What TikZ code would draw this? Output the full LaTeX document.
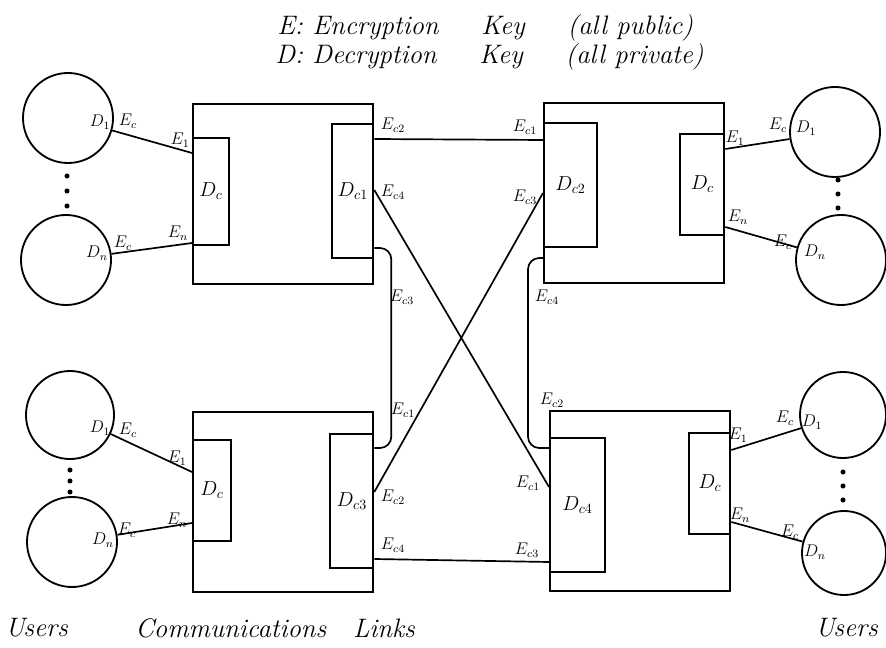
\documentclass[tikz,border=0pt]{standalone}
\usepackage{tikz}
\usetikzlibrary{calc,positioning}

\begin{document}
\begin{tikzpicture}[
  x=0.025cm, y=-0.025cm,
  site/.style={rectangle, draw, line width=1.6pt, minimum width=4.5cm, minimum height=4.5cm,
               anchor=north west, inner sep=0pt},
  keybox/.style={rectangle, draw, line width=1.3pt, inner sep=0pt, font=\fontsize{14}{16}\selectfont},
  user/.style={circle, draw, line width=1.3pt, inner sep=0pt},
  link/.style={line width=1.2pt},
  lbl/.style={font=\fontsize{12}{14}\selectfont, inner sep=0pt},
  hand/.style={font=\fontsize{#1}{#1}\selectfont\itshape, inner sep=0pt},
]
  \useasboundingbox (0,0) rectangle (886,648);

  % Legend
  \node[hand=19, anchor=west] (legE) at (277,28) {E: Encryption\hspace{1.6em}Key\hspace{1.6em}(all public)};
  \node[hand=19, anchor=west] (legD) at (275,57) {D: Decryption\hspace{1.6em}Key\hspace{1.6em}(all private)};

  % Sites
  \node[site] (A) at (192,103) {};
  \node[site] (B) at (543,102) {};
  \node[site] (C) at (192,411) {};
  \node[site] (D) at (549,410) {};

  % Key boxes
  \node[keybox, anchor=north west, minimum width=0.9cm,   minimum height=2.675cm] (A1) at ($(A.north west)+(0,34)$) {$D_c$};
  \node[keybox, anchor=north east, minimum width=1.025cm, minimum height=3.35cm]  (A2) at ($(A.north east)+(0,20)$) {$D_{c1}$};
  \node[keybox, anchor=north west, minimum width=1.325cm, minimum height=3.1cm]   (B1) at ($(B.north west)+(0,20)$) {$D_{c2}$};
  \node[keybox, anchor=north east, minimum width=1.1cm,   minimum height=2.525cm] (B2) at ($(B.north east)+(0,31)$) {$D_c$};
  \node[keybox, anchor=north west, minimum width=0.95cm,  minimum height=2.525cm] (C1) at ($(C.north west)+(0,28)$) {$D_c$};
  \node[keybox, anchor=north east, minimum width=1.075cm, minimum height=3.35cm]  (C2) at ($(C.north east)+(0,22)$) {$D_{c3}$};
  \node[keybox, anchor=north west, minimum width=1.375cm, minimum height=3.35cm]  (D1) at ($(D.north west)+(0,27)$) {$D_{c4}$};
  \node[keybox, anchor=north east, minimum width=1.025cm, minimum height=2.525cm] (D2) at ($(D.north east)+(0,22)$) {$D_c$};

  % Users
  \node[user, minimum size=2.25cm] (uA1) at (68,118) {};
  \node[user, minimum size=2.25cm] (uA2) at (66,260) {};
  \node[user, minimum size=2.2cm]  (uC1) at (70,415) {};
  \node[user, minimum size=2.25cm] (uC2) at (72,542) {};
  \node[user, minimum size=2.25cm] (uB1) at (835,132) {};
  \node[user, minimum size=2.25cm] (uB2) at (841,260) {};
  \node[user, minimum size=2.15cm] (uD1) at (843,415) {};
  \node[user, minimum size=2.1cm]  (uD2) at (844,553) {};

  \foreach \y in {176,191,206} \fill (67,\y) circle (1.8pt);
  \foreach \y in {470,481,492} \fill (70,\y) circle (1.8pt);
  \foreach \y in {180,194,208} \fill (838,\y) circle (1.8pt);
  \foreach \y in {472,486,500} \fill (843,\y) circle (1.8pt);

  % User lines
  \draw[link] ($(A.north west)+(0,50)$)  -- (uA1);
  \draw[link] ($(A.north west)+(0,140)$) -- (uA2);
  \draw[link] ($(C.north west)+(0,61)$)  -- (uC1);
  \draw[link] ($(C.north west)+(0,112)$) -- (uC2);
  \draw[link] ($(B.north east)+(0,47)$)  -- (uB1);
  \draw[link] ($(B.north east)+(0,125)$) -- (uB2);
  \draw[link] ($(D.north east)+(0,40)$)  -- (uD1);
  \draw[link] ($(D.north east)+(0,112)$) -- (uD2);

  % Communication links
  \draw[link] ($(A.north east)+(0,36)$)  -- ($(B.north west)+(0,38)$);
  \draw[link] ($(A.north east)+(0,87)$)  -- ($(D.north west)+(0,77)$);
  \draw[link] ($(B.north west)+(0,91)$)  -- ($(C.north east)+(0,81)$);
  \draw[link] ($(C.north east)+(0,148)$) -- ($(D.north west)+(0,152)$);
  \draw[link, rounded corners=8pt] ($(A.north east)+(0,145)$) -| ($(C.north east)+(17,37)$) -- ($(C.north east)+(0,37)$);
  \draw[link, rounded corners=8pt] ($(B.north west)+(0,156)$) -| ($(D.north west)+(-21,38)$) -- ($(D.north west)+(0,38)$);

  % Labels, users
  \node[lbl] (lA1) at (100,122) {$D_1$};
  \node[lbl] (lA2) at (128,121) {$E_c$};
  \node[lbl] (lA3) at (180,140) {$E_1$};
  \node[lbl] (lA4) at (178,233) {$E_n$};
  \node[lbl] (lA5) at (97,253)  {$D_n$};
  \node[lbl] (lA6) at (123,243) {$E_c$};
  \node[lbl] (lC1) at (100,428) {$D_1$};
  \node[lbl] (lC2) at (128,430) {$E_c$};
  \node[lbl] (lC3) at (177,458) {$E_1$};
  \node[lbl] (lC4) at (177,520) {$E_n$};
  \node[lbl] (lC5) at (103,540) {$D_n$};
  \node[lbl] (lC6) at (127,530) {$E_c$};
  \node[lbl] (lB1) at (778,125) {$E_c$};
  \node[lbl] (lB2) at (806,128) {$D_1$};
  \node[lbl] (lB3) at (735,138) {$E_1$};
  \node[lbl] (lB4) at (738,217) {$E_n$};
  \node[lbl] (lB5) at (783,242) {$E_c$};
  \node[lbl] (lB6) at (815,252) {$D_n$};
  \node[lbl] (lD1) at (785,418) {$E_c$};
  \node[lbl] (lD2) at (812,422) {$D_1$};
  \node[lbl] (lD3) at (738,435) {$E_1$};
  \node[lbl] (lD4) at (740,515) {$E_n$};
  \node[lbl] (lD5) at (790,532) {$E_c$};
  \node[lbl] (lD6) at (815,552) {$D_n$};

  % Labels, links
  \node[lbl] (kA1) at (393,125) {$E_{c2}$};
  \node[lbl] (kA2) at (393,192) {$E_{c4}$};
  \node[lbl] (kA3) at (402,297) {$E_{c3}$};
  \node[lbl] (kC0) at (403,410) {$E_{c1}$};
  \node[lbl] (kB1) at (525,127) {$E_{c1}$};
  \node[lbl] (kB2) at (525,197) {$E_{c3}$};
  \node[lbl] (kB3) at (547,297) {$E_{c4}$};
  \node[lbl] (kC1) at (393,497) {$E_{c2}$};
  \node[lbl] (kC2) at (393,545) {$E_{c4}$};
  \node[lbl] (kD0) at (552,400) {$E_{c2}$};
  \node[lbl] (kD1) at (528,483) {$E_{c1}$};
  \node[lbl] (kD2) at (527,550) {$E_{c3}$};

  % Captions
  \node[hand=19, anchor=west] (capL) at (5,628) {Users};
  \node[hand=19, anchor=west] (capM) at (135,628) {Communications\quad Links};
  \node[hand=19, anchor=west] (capR) at (815,628) {Users};
\end{tikzpicture}
\end{document}
